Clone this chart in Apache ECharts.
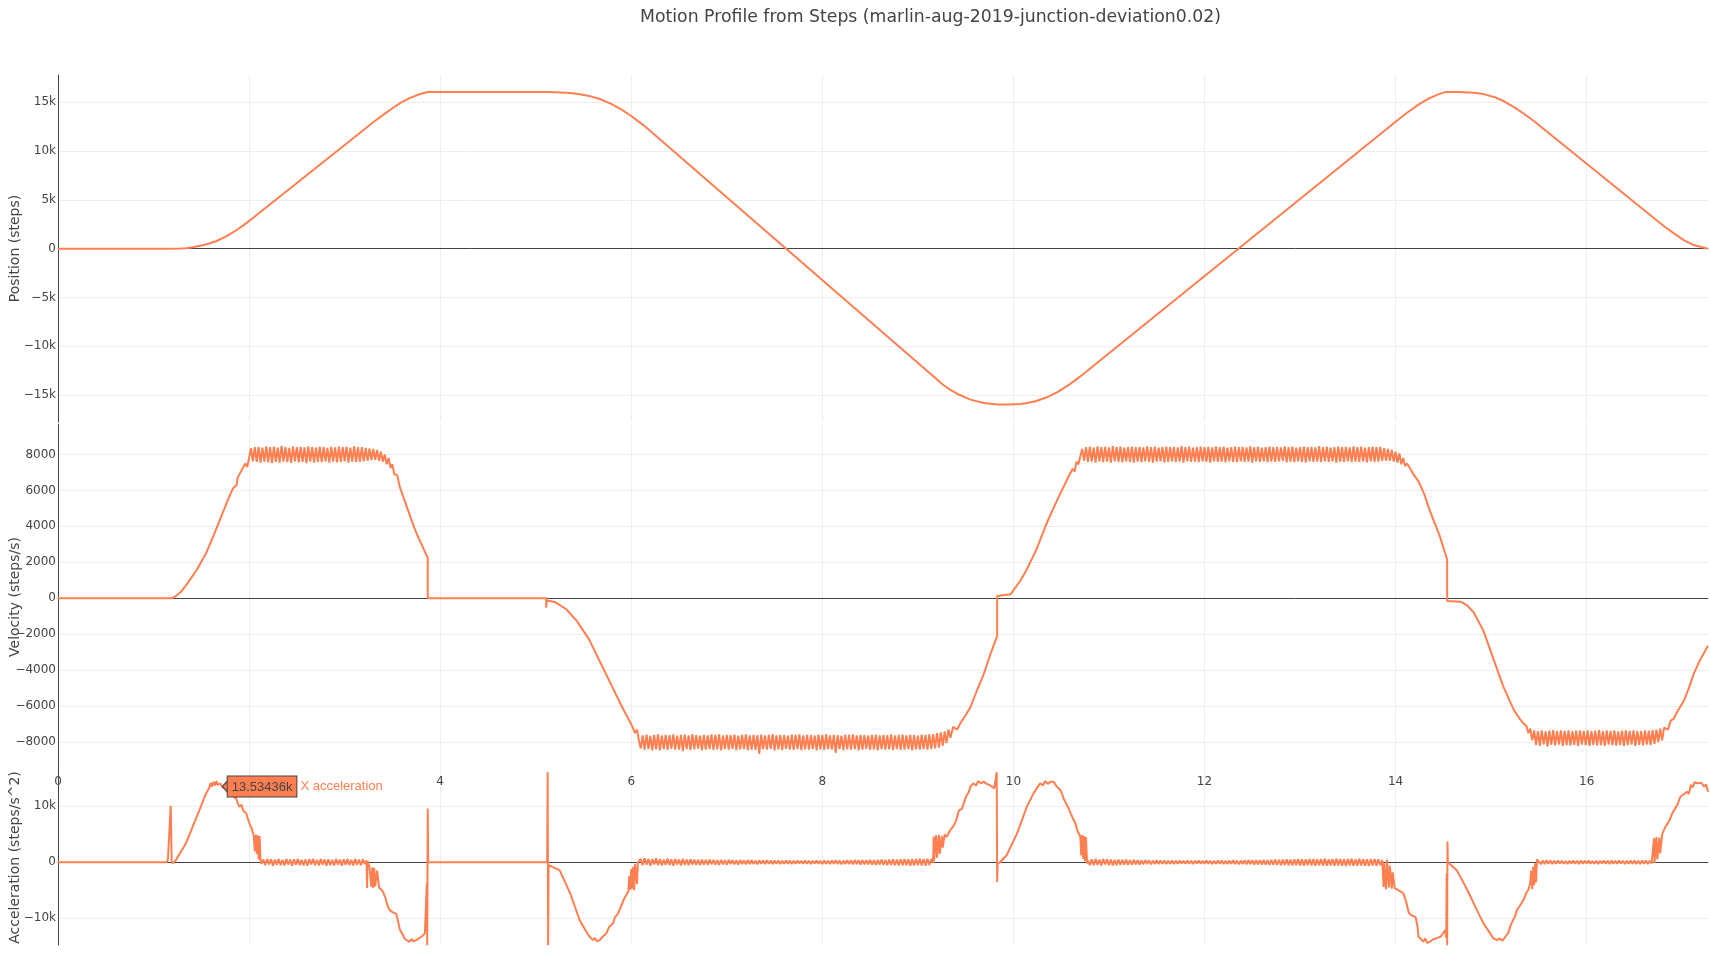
<!DOCTYPE html>
<html>
<head>
<meta charset="utf-8">
<script src="https://cdn.jsdelivr.net/npm/echarts@6/dist/echarts.min.js"></script>
<style>
html,body{margin:0;padding:0;background:#fff;}
#chart{width:1710px;height:958px;}
</style>
</head>
<body>
<div id="chart"></div>
<script>
// ---------------- DATA ----------------
const chartTitle = 'Motion Profile from Steps (marlin-aug-2019-junction-deviation0.02)';
const seriesNames = ['X position', 'X velocity', 'X acceleration'];
const axisNames = ['Position (steps)', 'Velocity (steps/s)', 'Acceleration (steps/s^2)'];
const timeRange = [0, 17.27];
const positionRange = [-17744, 17785];
const velocityRange = [-9548, 9692];
const accelerationRange = [-14770, 16480];
const hoverPoint = [1.72, 13534.36];
const hoverText = '13.53436k';

const positionData = [
[0,0],[1.19,0],[1.27,16],[1.34,53],[1.41,139],[1.55,427],[1.66,786],[1.76,1260],[1.83,1662],[1.94,2386],[2.04,3136],
[3.3,12950],[3.4,13680],[3.5,14380],[3.58,14900],[3.68,15420],[3.79,15840],[3.87,16050],[5.13,16050],[5.32,15978],
[5.43,15876],[5.56,15645],[5.67,15326],[5.79,14828],[5.9,14234],[6.0,13584],[6.13,12628],[9.27,-13984],[9.34,-14450],
[9.41,-14850],[9.55,-15450],[9.69,-15800],[9.83,-15960],[9.97,-15945],[10.07,-15890],[10.13,-15820],[10.24,-15595],
[10.35,-15216],[10.47,-14628],[10.58,-13946],[10.69,-13154],[10.8,-12296],[13.9,12200],[14.0,12990],[14.12,13914],
[14.24,14754],[14.35,15387],[14.46,15854],[14.53,16054],[14.66,16040],[14.82,15960],[14.92,15830],[15.03,15540],
[15.13,15120],[15.24,14500],[15.34,13840],[15.45,13050],[16.81,2300],[16.91,1590],[17.02,860],[17.12,370],[17.27,0]
];

const velocityData = [
[0,0],[1.19,0],[1.19,100],[1.24,150],[1.29,380],[1.34,720],[1.40,1180],[1.45,1560],[1.55,2500],[1.66,3900],
[1.73,4830],[1.78,5500],[1.83,6100],[1.87,6300],[1.88,6700],[1.90,6650],[1.92,7100],[1.94,7000],[1.96,7500],[1.98,7300],[2.00,7800],
[2.02,8350],[2.04,7620],[2.06,8400],[2.08,7580],[2.10,8420],[2.12,7550],[2.14,8380],[2.16,7600],[2.18,8450],[2.20,7560],
[2.22,8400],[2.24,7520],[2.26,8430],[2.28,7590],[2.30,8380],[2.32,7540],[2.34,8470],[2.36,7600],[2.38,8410],[2.40,7570],
[2.42,8360],[2.44,7530],[2.46,8440],[2.48,7610],[2.50,8400],[2.52,7560],[2.54,8420],[2.56,7580],[2.58,8390],[2.60,7520],
[2.62,8450],[2.64,7600],[2.66,8410],[2.68,7550],[2.70,8380],[2.72,7590],[2.74,8430],[2.76,7570],[2.78,8400],[2.80,7620],
[2.82,8360],[2.84,7540],[2.86,8420],[2.88,7600],[2.90,8390],[2.92,7560],[2.94,8440],[2.96,7580],[2.98,8400],[3.00,7610],
[3.02,8430],[3.04,7550],[3.06,8380],[3.08,7600],[3.10,8460],[3.12,7570],[3.14,8400],[3.16,7590],[3.18,8410],[3.20,7620],
[3.22,8360],[3.24,7650],[3.26,8330],[3.28,7680],
[3.30,8300],[3.32,7700],[3.34,8250],[3.36,7650],[3.38,8150],[3.40,7600],[3.42,8000],[3.44,7450],[3.46,7800],[3.48,7250],
[3.50,7450],[3.52,6900],[3.55,6850],[3.58,6150],[3.63,5400],[3.68,4650],[3.73,3900],[3.79,3170],[3.87,2245],[3.87,0],
[5.11,0],[5.11,-520],[5.115,-120],[5.2,-200],[5.32,-610],[5.43,-1255],[5.56,-2300],[5.67,-3500],[5.79,-4800],[5.9,-6000],
[5.96,-6600],[6.0,-7000],[6.02,-6900],[6.04,-7500],[6.06,-7300],[6.08,-7900],
[6.10,-8350],[6.12,-7620],[6.14,-8420],[6.16,-7580],[6.18,-8380],[6.20,-7650],[6.22,-8450],[6.24,-7600],[6.26,-8400],[6.28,-7560],
[6.30,-8460],[6.32,-7630],[6.34,-8390],[6.36,-7590],[6.38,-8430],[6.40,-7610],[6.42,-8370],[6.44,-7570],[6.46,-8410],[6.48,-7640],
[6.50,-8420],[6.52,-7600],[6.54,-8500],[6.56,-7580],[6.58,-8380],[6.60,-7620],[6.62,-8440],[6.64,-7550],[6.66,-8400],[6.68,-7610],
[6.70,-8360],[6.72,-7640],[6.74,-8450],[6.76,-7590],[6.78,-8410],[6.80,-7620],[6.82,-8380],[6.84,-7570],[6.86,-8430],[6.88,-7600],
[6.90,-8400],[6.92,-7560],[6.94,-8460],[6.96,-7630],[6.98,-8390],[7.00,-7590],[7.02,-8420],[7.04,-7610],[7.06,-8370],[7.08,-7580],
[7.10,-8440],[7.12,-7640],[7.14,-8400],[7.16,-7600],[7.18,-8380],[7.20,-7570],[7.22,-8450],[7.24,-7620],[7.26,-8410],[7.28,-7590],
[7.30,-8430],[7.32,-7610],[7.34,-8650],[7.36,-7580],[7.38,-8390],[7.40,-7630],[7.42,-8420],[7.44,-7600],[7.46,-8380],[7.48,-7560],
[7.50,-8460],[7.52,-7620],[7.54,-8400],[7.56,-7590],[7.58,-8440],[7.60,-7610],[7.62,-8370],[7.64,-7640],[7.66,-8410],[7.68,-7580],
[7.70,-8430],[7.72,-7600],[7.74,-8390],[7.76,-7570],[7.78,-8450],[7.80,-7620],[7.82,-8400],[7.84,-7590],[7.86,-8420],[7.88,-7610],
[7.90,-8380],[7.92,-7630],[7.94,-8460],[7.96,-7580],[7.98,-8400],[8.00,-7600],[8.02,-8430],[8.04,-7560],[8.06,-8390],[8.08,-7620],
[8.10,-8410],[8.12,-7590],[8.14,-8600],[8.16,-7610],[8.18,-8380],[8.20,-7640],[8.22,-8440],[8.24,-7580],[8.26,-8400],[8.28,-7600],
[8.30,-8420],[8.32,-7570],[8.34,-8390],[8.36,-7620],[8.38,-8450],[8.40,-7590],[8.42,-8410],[8.44,-7610],[8.46,-8370],[8.48,-7630],
[8.50,-8430],[8.52,-7600],[8.54,-8400],[8.56,-7580],[8.58,-8460],[8.60,-7620],[8.62,-8380],[8.64,-7590],[8.66,-8420],[8.68,-7610],
[8.70,-8400],[8.72,-7570],[8.74,-8440],[8.76,-7630],[8.78,-8390],[8.80,-7600],[8.82,-8430],[8.84,-7580],[8.86,-8410],[8.88,-7620],
[8.90,-8380],[8.92,-7590],[8.94,-8450],[8.96,-7610],[8.98,-8400],[9.00,-7640],[9.02,-8420],[9.04,-7580],[9.06,-8390],[9.08,-7600],
[9.10,-8410],[9.12,-7570],[9.14,-8380],[9.16,-7550],[9.18,-8350],[9.20,-7500],[9.22,-8300],[9.24,-7450],[9.26,-8200],[9.28,-7400],
[9.30,-8050],[9.32,-7300],[9.34,-7750],[9.37,-7150],[9.41,-7300],[9.45,-6900],[9.50,-6500],[9.55,-6050],[9.62,-5100],[9.69,-4200],
[9.76,-3100],[9.83,-2085],[9.83,130],[9.97,220],[10.07,960],[10.13,1500],[10.24,2700],[10.35,4200],[10.47,5600],[10.58,6800],
[10.62,7200],[10.64,7050],[10.66,7600],[10.68,7450],[10.70,7900],
[10.72,8300],[10.74,7650],[10.76,8400],[10.78,7580],[10.80,8430],[10.82,7600],[10.84,8380],[10.86,7550],[10.88,8450],[10.90,7620],
[10.92,8400],[10.94,7570],[10.96,8420],[10.98,7600],[11.00,8390],[11.02,7540],[11.04,8460],[11.06,7610],[11.08,8400],[11.10,7580],
[11.12,8430],[11.14,7560],[11.16,8380],[11.18,7620],[11.20,8410],[11.22,7590],[11.24,8440],[11.26,7550],[11.28,8400],[11.30,7600],
[11.32,8420],[11.34,7570],[11.36,8390],[11.38,7610],[11.40,8450],[11.42,7580],[11.44,8400],[11.46,7540],[11.48,8430],[11.50,7600],
[11.52,8380],[11.54,7620],[11.56,8410],[11.58,7560],[11.60,8440],[11.62,7590],[11.64,8400],[11.66,7610],[11.68,8420],[11.70,7570],
[11.72,8390],[11.74,7600],[11.76,8460],[11.78,7550],[11.80,8400],[11.82,7620],[11.84,8430],[11.86,7580],[11.88,8380],[11.90,7600],
[11.92,8410],[11.94,7570],[11.96,8440],[11.98,7610],[12.00,8400],[12.02,7590],[12.04,8420],[12.06,7550],[12.08,8390],[12.10,7620],
[12.12,8450],[12.14,7580],[12.16,8400],[12.18,7600],[12.20,8430],[12.22,7560],[12.24,8380],[12.26,7610],[12.28,8410],[12.30,7590],
[12.32,8440],[12.34,7570],[12.36,8400],[12.38,7620],[12.40,8420],[12.42,7580],[12.44,8390],[12.46,7600],[12.48,8460],[12.50,7550],
[12.52,8400],[12.54,7610],[12.56,8430],[12.58,7590],[12.60,8380],[12.62,7620],[12.64,8410],[12.66,7570],[12.68,8440],[12.70,7600],
[12.72,8400],[12.74,7580],[12.76,8420],[12.78,7610],[12.80,8390],[12.82,7640],[12.84,8450],[12.86,7560],[12.88,8400],[12.90,7600],
[12.92,8430],[12.94,7570],[12.96,8380],[12.98,7620],[13.00,8410],[13.02,7590],[13.04,8440],[13.06,7550],[13.08,8400],[13.10,7610],
[13.12,8420],[13.14,7580],[13.16,8390],[13.18,7600],[13.20,8460],[13.22,7570],[13.24,8400],[13.26,7620],[13.28,8430],[13.30,7590],
[13.32,8380],[13.34,7610],[13.36,8410],[13.38,7550],[13.40,8440],[13.42,7600],[13.44,8400],[13.46,7580],[13.48,8420],[13.50,7620],
[13.52,8390],[13.54,7570],[13.56,8450],[13.58,7600],[13.60,8400],[13.62,7590],[13.64,8430],[13.66,7610],[13.68,8380],[13.70,7560],
[13.72,8410],[13.74,7620],[13.76,8440],[13.78,7580],[13.80,8400],[13.82,7600],[13.84,8420],[13.86,7640],[13.88,8350],[13.90,7650],
[13.92,8300],[13.94,7650],[13.96,8250],[13.98,7600],[14.00,8150],[14.02,7550],[14.04,8050],[14.06,7450],[14.08,7800],[14.10,7350],
[14.12,7500],[14.15,7250],[14.18,6950],[14.24,6500],[14.30,5800],[14.35,5000],[14.40,4300],[14.46,3500],[14.54,2157],[14.54,-150],
[14.68,-190],[14.75,-400],[14.82,-800],[14.92,-1810],[15.03,-3470],[15.13,-4940],[15.24,-6230],[15.30,-6700],[15.34,-6970],[15.37,-7100],
[15.39,-7500],[15.41,-7250],
[15.43,-7900],[15.45,-7350],[15.47,-8150],[15.49,-7380],[15.51,-8200],[15.53,-7340],[15.55,-8120],[15.57,-7400],[15.59,-8250],[15.61,-7360],
[15.63,-8150],[15.65,-7330],[15.67,-8180],[15.69,-7390],[15.71,-8140],[15.73,-7350],[15.75,-8200],[15.77,-7370],[15.79,-8160],[15.81,-7340],
[15.83,-8190],[15.85,-7400],[15.87,-8150],[15.89,-7360],[15.91,-8220],[15.93,-7350],[15.95,-8140],[15.97,-7380],[15.99,-8170],[16.01,-7340],
[16.03,-8200],[16.05,-7390],[16.07,-8150],[16.09,-7360],[16.11,-8180],[16.13,-7330],[16.15,-8160],[16.17,-7380],[16.19,-8200],[16.21,-7350],
[16.23,-8140],[16.25,-7370],[16.27,-8170],[16.29,-7340],[16.31,-8190],[16.33,-7400],[16.35,-8150],[16.37,-7360],[16.39,-8220],[16.41,-7350],
[16.43,-8160],[16.45,-7380],[16.47,-8140],[16.49,-7340],[16.51,-8200],[16.53,-7370],[16.55,-8150],[16.57,-7390],[16.59,-8180],[16.61,-7350],
[16.63,-8140],[16.65,-7360],[16.67,-8170],[16.69,-7330],[16.71,-8100],[16.73,-7300],[16.75,-8000],[16.77,-7250],[16.79,-7900],[16.81,-7200],
[16.85,-7300],[16.88,-6800],[16.91,-6700],[16.96,-6200],[17.02,-5680],[17.07,-5000],[17.12,-4200],[17.19,-3400],[17.27,-2640]
];

const accelerationData = [
[0,0],[1.13,0],[1.15,400],[1.17,300],[1.18,10100],[1.19,200],[1.20,-200],[1.23,300],[1.34,3400],[1.48,9300],
[1.55,12300],[1.58,13200],[1.60,14200],[1.61,13500],[1.63,14400],[1.64,13700],[1.66,14500],[1.67,13800],[1.69,13534],[1.70,14100],
[1.72,13400],[1.74,13600],[1.76,13200],[1.78,12900],[1.80,12600],[1.83,12300],[1.85,11400],[1.86,11800],[1.88,10600],[1.90,9900],
[1.92,10300],[1.94,9200],[1.97,8750],[1.99,7600],[2.01,6700],[2.03,5900],[2.05,4600],[2.06,2000],[2.07,4900],[2.08,1500],
[2.09,4800],[2.10,500],[2.11,4700],[2.12,300],[2.13,-300],
[2.15,500],[2.17,-500],[2.19,600],[2.21,-400],[2.23,550],[2.25,-600],[2.27,500],[2.29,-450],[2.31,600],[2.33,-500],
[2.35,450],[2.37,-550],[2.39,600],[2.41,-400],[2.43,500],[2.45,-600],[2.47,550],[2.49,-450],[2.51,600],[2.53,-500],
[2.55,450],[2.57,-550],[2.59,500],[2.61,-600],[2.63,550],[2.65,-400],[2.67,600],[2.69,-500],[2.71,450],[2.73,-550],
[2.75,600],[2.77,-450],[2.79,500],[2.81,-600],[2.83,550],[2.85,-500],[2.87,450],[2.89,-550],[2.91,600],[2.93,-400],
[2.95,500],[2.97,-600],[2.99,550],[3.01,-450],[3.03,600],[3.05,-500],[3.07,450],[3.09,-550],[3.11,600],[3.13,-450],
[3.15,500],[3.17,-500],[3.19,550],[3.21,-300],
[3.23,300],[3.235,-4600],[3.24,200],[3.26,-800],[3.28,-4400],[3.29,-900],[3.30,-4600],[3.31,-1000],[3.32,-4300],[3.34,-1500],
[3.36,-4500],[3.38,-4800],[3.40,-5200],[3.43,-6500],[3.45,-7800],[3.47,-8500],[3.50,-8900],[3.54,-9200],[3.56,-10600],[3.58,-12100],
[3.61,-13000],[3.63,-13700],[3.65,-13900],[3.68,-14200],[3.70,-13700],[3.72,-14100],[3.75,-13900],[3.78,-13600],[3.81,-13200],[3.84,-12700],
[3.85,-13000],[3.86,-3750],[3.865,-14800],[3.87,9600],[3.875,0],[5.12,0],[5.125,16100],[5.13,-14800],[5.135,-500],[5.14,-200],
[5.25,-1400],[5.36,-5500],[5.46,-10300],[5.53,-12400],[5.56,-13200],[5.60,-13900],[5.62,-13500],[5.64,-14100],[5.67,-13900],[5.70,-13300],
[5.74,-12700],[5.77,-11500],[5.81,-10900],[5.83,-9800],[5.86,-9200],[5.89,-8000],[5.92,-6700],[5.95,-5800],[5.97,-5200],[5.98,-2400],
[5.99,-4900],[6.00,-1200],[6.01,-4700],[6.02,-800],[6.03,-5000],[6.04,-300],[6.06,-3900],[6.07,0],
[6.10,600],[6.12,-500],[6.14,700],[6.16,-450],[6.18,600],[6.20,-600],[6.22,550],[6.24,-400],[6.26,700],[6.28,-500],
[6.30,600],[6.32,-550],[6.34,500],[6.36,-450],[6.38,650],[6.40,-500],[6.42,550],[6.44,-600],[6.46,600],[6.48,-400],
[6.50,500],[6.52,-550],[6.54,600],[6.56,-450],[6.58,500],[6.60,-500],[6.62,550],[6.64,-400],[6.66,500],[6.68,-450],
[6.70,450],[6.72,-500],[6.74,500],[6.76,-400],[6.78,450],[6.80,-450],[6.82,500],[6.84,-350],[6.86,450],[6.88,-400],
[6.90,400],[6.92,-450],[6.94,450],[6.96,-350],[6.98,400],[7.00,-400],[7.02,450],[7.04,-300],[7.06,400],[7.08,-350],
[7.10,350],[7.12,-400],[7.14,400],[7.16,-300],[7.18,350],[7.20,-350],[7.22,400],[7.24,-300],[7.26,350],[7.28,-300],
[7.30,300],[7.32,-350],[7.34,350],[7.36,-250],[7.38,300],[7.40,-300],[7.42,350],[7.44,-250],[7.46,300],[7.48,-300],
[7.50,300],[7.52,-250],[7.54,300],[7.56,-300],[7.58,250],[7.60,-250],[7.62,300],[7.64,-250],[7.66,300],[7.68,-300],
[7.70,250],[7.72,-250],[7.74,300],[7.76,-200],[7.78,250],[7.80,-250],[7.82,300],[7.84,-250],[7.86,250],[7.88,-300],
[7.90,250],[7.92,-200],[7.94,300],[7.96,-250],[7.98,250],[8.00,-300],[8.02,300],[8.04,-250],[8.06,250],[8.08,-300],
[8.10,300],[8.12,-250],[8.14,350],[8.16,-300],[8.18,300],[8.20,-350],[8.22,300],[8.24,-300],[8.26,350],[8.28,-300],
[8.30,350],[8.32,-350],[8.34,400],[8.36,-300],[8.38,350],[8.40,-400],[8.42,400],[8.44,-350],[8.46,400],[8.48,-350],
[8.50,450],[8.52,-400],[8.54,400],[8.56,-450],[8.58,450],[8.60,-400],[8.62,500],[8.64,-450],[8.66,450],[8.68,-500],
[8.70,500],[8.72,-450],[8.74,550],[8.76,-500],[8.78,500],[8.80,-550],[8.82,550],[8.84,-500],[8.86,600],[8.88,-500],
[8.90,550],[8.92,-600],[8.94,600],[8.96,-550],[8.98,600],[9.00,-500],[9.02,650],[9.04,-550],[9.06,600],[9.08,-600],
[9.10,650],[9.12,-500],[9.14,600],
[9.16,-100],[9.165,4600],[9.17,300],[9.19,4800],[9.20,800],[9.22,4900],[9.23,1500],[9.25,4700],[9.26,2600],[9.28,5000],
[9.30,4500],[9.34,5800],[9.37,6400],[9.40,7400],[9.43,9300],[9.46,9500],[9.48,9800],[9.51,12000],[9.53,12400],[9.55,13500],
[9.58,14100],[9.61,13700],[9.63,14500],[9.66,14100],[9.69,14400],[9.72,14000],[9.75,13800],[9.77,13500],[9.80,13200],[9.82,12900],
[9.825,16100],[9.83,-3500],[9.835,-200],[9.86,0],[9.93,1300],[10.04,5200],[10.14,9900],[10.21,12300],[10.28,14100],[10.31,13700],
[10.33,14500],[10.36,14000],[10.39,14400],[10.42,14400],[10.45,13600],[10.47,13900],[10.49,12900],[10.51,12200],[10.53,11200],[10.56,10200],
[10.58,9600],[10.60,8700],[10.63,7600],[10.65,6900],[10.67,5600],[10.70,4600],[10.71,1200],[10.72,4900],[10.73,600],[10.74,4700],
[10.75,200],[10.76,4500],[10.77,-200],[10.78,300],
[10.80,-500],[10.82,550],[10.84,-500],[10.86,600],[10.88,-450],[10.90,500],[10.92,-550],[10.94,600],[10.96,-400],[10.98,550],
[11.00,-500],[11.02,500],[11.04,-550],[11.06,450],[11.08,-500],[11.10,500],[11.12,-450],[11.14,450],[11.16,-400],[11.18,500],
[11.20,-450],[11.22,400],[11.24,-400],[11.26,450],[11.28,-350],[11.30,400],[11.32,-400],[11.34,350],[11.36,-350],[11.38,400],
[11.40,-300],[11.42,350],[11.44,-350],[11.46,300],[11.48,-300],[11.50,350],[11.52,-300],[11.54,300],[11.56,-250],[11.58,300],
[11.60,-300],[11.62,250],[11.64,-250],[11.66,300],[11.68,-300],[11.70,250],[11.72,-250],[11.74,300],[11.76,-200],[11.78,250],
[11.80,-250],[11.82,300],[11.84,-250],[11.86,250],[11.88,-300],[11.90,250],[11.92,-200],[11.94,300],[11.96,-250],[11.98,250],
[12.00,-250],[12.02,300],[12.04,-250],[12.06,250],[12.08,-300],[12.10,250],[12.12,-250],[12.14,300],[12.16,-250],[12.18,300],
[12.20,-300],[12.22,250],[12.24,-300],[12.26,300],[12.28,-250],[12.30,350],[12.32,-300],[12.34,300],[12.36,-350],[12.38,300],
[12.40,-300],[12.42,350],[12.44,-350],[12.46,400],[12.48,-300],[12.50,350],[12.52,-400],[12.54,400],[12.56,-350],[12.58,400],
[12.60,-400],[12.62,450],[12.64,-400],[12.66,400],[12.68,-450],[12.70,450],[12.72,-400],[12.74,500],[12.76,-450],[12.78,450],
[12.80,-500],[12.82,500],[12.84,-450],[12.86,550],[12.88,-500],[12.90,500],[12.92,-550],[12.94,550],[12.96,-500],[12.98,600],
[13.00,-550],[13.02,550],[13.04,-600],[13.06,550],[13.08,-500],[13.10,600],[13.12,-550],[13.14,600],[13.16,-600],[13.18,550],
[13.20,-500],[13.22,600],[13.24,-550],[13.26,650],[13.28,-600],[13.30,550],[13.32,-550],[13.34,600],[13.36,-600],[13.38,650],
[13.40,-550],[13.42,600],[13.44,-600],[13.46,550],[13.48,-650],[13.50,600],[13.52,-550],[13.54,650],[13.56,-600],[13.58,550],
[13.60,-600],[13.62,650],[13.64,-550],[13.66,600],[13.68,-600],[13.70,550],[13.72,-650],[13.74,600],[13.76,-550],[13.78,600],
[13.80,-600],[13.82,550],[13.84,-500],
[13.86,400],[13.875,-4400],[13.88,-200],[13.90,-4800],[13.91,500],[13.93,-4500],[13.94,-600],[13.96,-4700],[13.97,-1800],[13.99,-4600],
[14.02,-4900],[14.05,-5200],[14.08,-5500],[14.11,-7000],[14.14,-9100],[14.17,-9500],[14.21,-9800],[14.23,-11500],[14.24,-13300],[14.27,-13800],
[14.29,-14200],[14.31,-13600],[14.33,-14400],[14.36,-14200],[14.39,-13800],[14.41,-14100],[14.44,-13500],[14.47,-13300],[14.50,-12600],[14.52,-12100],
[14.53,-13500],[14.535,-2000],[14.54,-14800],[14.543,3700],[14.547,0],[14.64,-1400],[14.75,-4900],[14.85,-8500],[14.92,-10900],[14.99,-12700],
[15.02,-13500],[15.06,-13900],[15.09,-13600],[15.12,-14000],[15.15,-13300],[15.18,-12600],[15.20,-11500],[15.23,-10300],[15.25,-9700],[15.27,-8500],
[15.30,-7800],[15.34,-6700],[15.37,-5400],[15.39,-4900],[15.41,-3700],[15.42,-1500],[15.43,-4800],[15.44,-800],[15.45,-4100],[15.46,-200],
[15.47,-3600],[15.48,500],
[15.50,300],[15.52,-350],[15.54,300],[15.56,-300],[15.58,350],[15.60,-250],[15.62,300],[15.64,-300],[15.66,250],[15.68,-250],
[15.70,300],[15.72,-200],[15.74,250],[15.76,-250],[15.78,200],[15.80,-300],[15.82,250],[15.84,-200],[15.86,300],[15.88,-250],
[15.90,250],[15.92,-300],[15.94,300],[15.96,-250],[15.98,250],[16.00,-200],[16.02,300],[16.04,-250],[16.06,200],[16.08,-250],
[16.10,250],[16.12,-300],[16.14,250],[16.16,-200],[16.18,300],[16.20,-250],[16.22,250],[16.24,-300],[16.26,300],[16.28,-250],
[16.30,250],[16.32,-250],[16.34,300],[16.36,-200],[16.38,250],[16.40,-300],[16.42,250],[16.44,-250],[16.46,300],[16.48,-250],
[16.50,300],[16.52,-300],[16.54,250],[16.56,-300],[16.58,300],[16.60,-250],[16.62,300],[16.64,-300],[16.66,250],[16.68,-200],
[16.70,100],[16.705,4300],[16.71,-100],[16.73,4500],[16.74,500],[16.76,4400],[16.77,1600],[16.79,5000],[16.82,6200],[16.85,7000],
[16.87,7600],[16.90,8900],[16.92,8750],[16.95,10300],[16.98,11700],[17.00,11400],[17.02,12200],[17.05,12600],[17.07,12200],[17.09,13800],
[17.11,13400],[17.13,14300],[17.16,14100],[17.18,13800],[17.20,14200],[17.23,13500],[17.25,13900],[17.27,12600]
];

// ---------------- CHART ----------------
const FONT = '"DejaVu Sans", verdana, sans-serif';
const HOVER_FONT = '"Liberation Sans", Arial, sans-serif';
const TEXT = '#444';
const LINE = '#ff7f50';
const grids = [
  {left: 58, width: 1650, top: 75, height: 347, outerBoundsMode: 'none', containLabel: false},
  {left: 58, width: 1650, top: 424, height: 346, outerBoundsMode: 'none', containLabel: false},
  {left: 58, width: 1650, top: 770, height: 175, outerBoundsMode: 'none', containLabel: false}
];
function kFmt(v){ if (v === 0) return '0'; return (v < 0 ? '\u2212' : '') + (Math.abs(v) / 1000) + 'k'; }
function plainFmt(v){ return v < 0 ? '\u2212' + Math.abs(v) : String(v); }

function xAxisFor(i){
  return {
    type: 'value', gridIndex: i, min: timeRange[0], max: timeRange[1], interval: 2,
    axisLine: {show: true, onZero: true, lineStyle: {color: TEXT, width: 1}},
    axisTick: {show: false}, axisLabel: {show: false},
    splitLine: {show: true, showMinLine: false, showMaxLine: false, lineStyle: {color: '#eee', width: 1}}
  };
}
function yAxisFor(i, range, split, fmt){
  return {
    type: 'value', gridIndex: i, min: range[0], max: range[1], splitNumber: split,
    name: axisNames[i], nameLocation: 'middle', nameGap: 36, nameMoveOverlap: false,
    nameTextStyle: {color: TEXT, fontSize: 14, fontFamily: FONT},
    axisLine: {show: true, onZero: false, lineStyle: {color: TEXT, width: 1}},
    axisTick: {show: false},
    axisLabel: {formatter: fmt, color: TEXT, fontSize: 12, fontFamily: FONT, margin: 2, showMinLabel: false, showMaxLabel: false},
    splitLine: {show: true, showMinLine: false, showMaxLine: false, lineStyle: {color: '#eee', width: 1}}
  };
}
const xAxes = [xAxisFor(0), xAxisFor(1), xAxisFor(2), {
  type: 'value', gridIndex: 1, position: 'bottom', min: timeRange[0], max: timeRange[1], interval: 2,
  axisLine: {show: false, onZero: false}, axisTick: {show: false}, splitLine: {show: false},
  axisLabel: {color: TEXT, fontSize: 12, fontFamily: FONT, margin: 6, showMaxLabel: false}
}];
const yAxes = [
  yAxisFor(0, positionRange, 7, kFmt),
  yAxisFor(1, velocityRange, 8, plainFmt),
  yAxisFor(2, accelerationRange, 3, kFmt)
];
function lineSeries(i, data){
  return {
    type: 'line', name: seriesNames[i], xAxisIndex: i, yAxisIndex: i, data: data,
    showSymbol: false, symbol: 'none', sampling: null, smooth: false, clip: true,
    lineStyle: {color: LINE, width: 2}, itemStyle: {color: LINE}, z: 3
  };
}
const accSeries = lineSeries(2, accelerationData);
accSeries.markPoint = {
  silent: true, animation: false, z: 10,
  data: [{
    coord: hoverPoint,
    symbol: 'path://M0,5L6,0L6,10Z', symbolSize: [5, 11], symbolOffset: [2.5, 0],
    itemStyle: {color: LINE, borderColor: TEXT, borderWidth: 1},
    label: {
      show: true, position: 'right', distance: 0,
      formatter: '{v|' + hoverText + '}{n|' + seriesNames[2] + '}',
      rich: {
        v: {backgroundColor: LINE, borderColor: TEXT, borderWidth: 1, padding: [4, 4, 3, 4], color: TEXT, fontSize: 13, fontFamily: HOVER_FONT, lineHeight: 14},
        n: {color: LINE, fontSize: 13, fontFamily: HOVER_FONT, padding: [0, 0, 0, 4]}
      }
    }
  }]
};

const chart = echarts.init(document.getElementById('chart'), null, {renderer: 'canvas'});
chart.setOption({
  animation: false,
  backgroundColor: '#fff',
  textStyle: {fontFamily: FONT},
  title: {text: chartTitle, left: 640, top: 9, padding: 0,
    textStyle: {color: TEXT, fontSize: 17.3, fontWeight: 'normal', fontFamily: FONT}},
  grid: grids,
  xAxis: xAxes,
  yAxis: yAxes,
  series: [lineSeries(0, positionData), lineSeries(1, velocityData), accSeries]
});
</script>
</body>
</html>
